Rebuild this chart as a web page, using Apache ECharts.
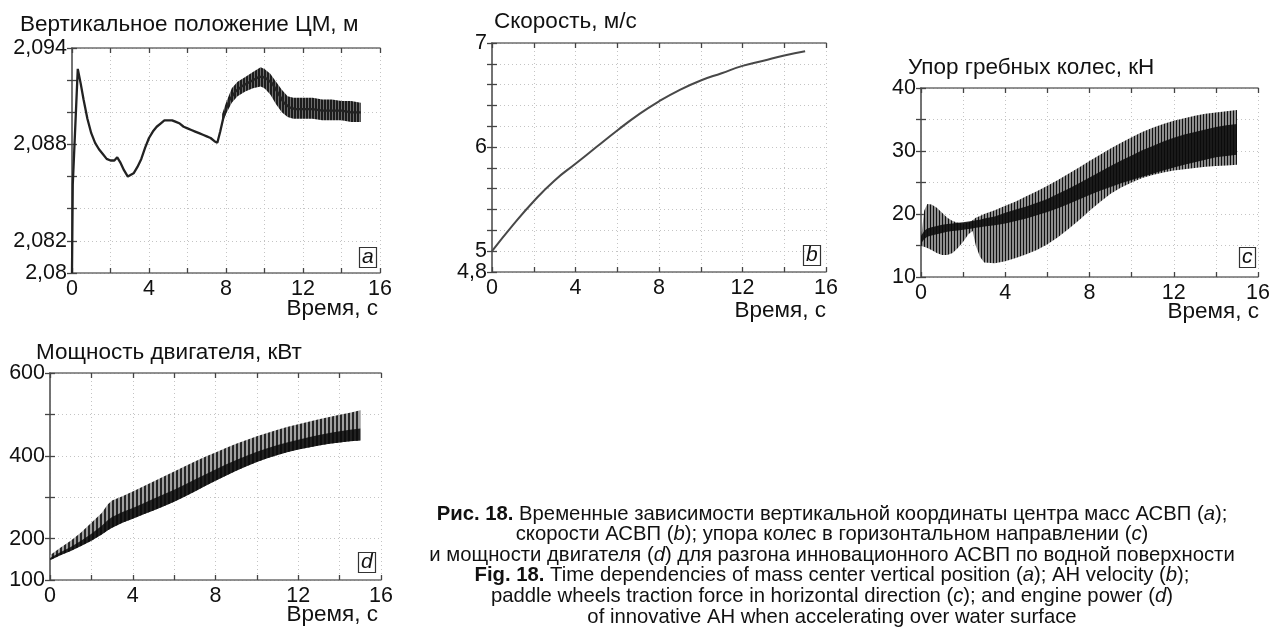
<!DOCTYPE html>
<html><head><meta charset="utf-8">
<script src="https://cdn.jsdelivr.net/npm/echarts@6/dist/echarts.min.js"></script>
<style>html,body{margin:0;padding:0;background:#fff}#c{width:1273px;height:628px}</style>
</head><body><div id="c"></div>
<script>
// ---------- DATA ----------
const xTicks = [0, 4, 8, 12, 16];
// (a) vertical position of mass center, m
const aTime = [0, 0.04, 0.3, 0.45, 0.6, 0.8, 1.0, 1.2, 1.4, 1.6, 1.8, 2.0, 2.2, 2.35, 2.5, 2.7, 2.9, 3.0, 3.2, 3.4, 3.6, 3.8, 4.0, 4.2, 4.4, 4.6, 4.8, 5.0, 5.2, 5.4, 5.6, 5.8, 6.0, 6.2, 6.4, 6.6, 6.8, 7.0, 7.2, 7.4, 7.55, 7.7, 7.85, 8.0, 8.2, 8.5, 8.8, 9.1, 9.4, 9.7, 9.9, 10.1, 10.4, 10.7, 11.0, 11.3, 11.6, 12, 12.5, 13, 13.5, 14, 14.5, 15];
const aPos = [2.0800, 2.0855, 2.0927, 2.0918, 2.0908, 2.0896, 2.0887, 2.0881, 2.0877, 2.0874, 2.0871, 2.0870, 2.0870, 2.0872, 2.0869, 2.0864, 2.0860, 2.0859, 2.0862, 2.0866, 2.0871, 2.0878, 2.0884, 2.0888, 2.0891, 2.0893, 2.0895, 2.0895, 2.0895, 2.0894, 2.0893, 2.0891, 2.0890, 2.0889, 2.0888, 2.0887, 2.0886, 2.0885, 2.0884, 2.0882, 2.0881, 2.0888, 2.0896, 2.0902, 2.0908, 2.0913, 2.0916, 2.0918, 2.0920, 2.0922, 2.0922, 2.0921, 2.0918, 2.0912, 2.0906, 2.0903, 2.0902, 2.0902, 2.0902, 2.0901, 2.0901, 2.0901, 2.0900, 2.0900];
const aBandTime = [7.8, 8.0, 8.3, 8.6, 9.0, 9.4, 9.8, 10.0, 10.3, 10.6, 10.9, 11.2, 11.5, 12, 12.5, 13, 13.5, 14, 14.5, 15];
const aBandHigh = [2.0899, 2.0906, 2.0915, 2.0919, 2.0922, 2.0925, 2.0928, 2.0927, 2.0924, 2.0919, 2.0914, 2.0910, 2.0909, 2.0909, 2.0909, 2.0908, 2.0908, 2.0907, 2.0907, 2.0906];
const aBandLow = [2.0893, 2.0899, 2.0906, 2.0910, 2.0913, 2.0915, 2.0916, 2.0915, 2.0911, 2.0905, 2.0900, 2.0897, 2.0896, 2.0896, 2.0896, 2.0895, 2.0895, 2.0895, 2.0894, 2.0894];
// (b) velocity, m/s
const bTime = [0, 1, 2, 3, 4, 5, 6, 7, 8, 9, 10, 11, 12, 13, 14, 15];
const bSpeed = [5.00, 5.25, 5.48, 5.68, 5.84, 6.00, 6.16, 6.31, 6.44, 6.55, 6.64, 6.71, 6.78, 6.83, 6.88, 6.92];
// (c) paddle wheel thrust, kN
const cTime = [0, 0.15, 0.3, 0.5, 0.75, 1.0, 1.25, 1.5, 1.75, 2.0, 2.25, 2.45, 2.6, 2.8, 3.0, 3.5, 4, 4.5, 5, 5.5, 6, 6.5, 7, 7.5, 8, 8.5, 9, 9.5, 10, 10.5, 11, 11.5, 12, 12.5, 13, 13.5, 14, 14.5, 15];
const cHigh = [16, 20.5, 21.6, 21.5, 21.0, 20.2, 19.4, 18.9, 18.6, 18.5, 18.6, 19.0, 19.4, 19.7, 20.0, 20.6, 21.3, 22.0, 22.8, 23.6, 24.5, 25.4, 26.4, 27.4, 28.4, 29.4, 30.4, 31.3, 32.2, 33.0, 33.7, 34.3, 34.8, 35.2, 35.6, 35.9, 36.1, 36.3, 36.5];
const cLow = [15, 14.8, 14.6, 14.3, 13.8, 13.5, 13.5, 13.8, 14.6, 15.6, 16.8, 17.3, 15.0, 13.2, 12.3, 12.2, 12.5, 13.0, 13.6, 14.3, 15.2, 16.3, 17.6, 19.0, 20.5, 21.9, 23.2, 24.2, 25.0, 25.7, 26.2, 26.6, 26.9, 27.1, 27.3, 27.5, 27.6, 27.7, 27.8];
const cCoreLow = [15.3, 16.0, 16.4, 16.6, 16.8, 17.0, 17.2, 17.3, 17.4, 17.5, 17.6, 17.7, 17.8, 17.9, 18.0, 18.2, 18.5, 18.9, 19.3, 19.8, 20.3, 20.9, 21.6, 22.3, 23.0, 23.7, 24.3, 24.9, 25.4, 25.9, 26.4, 26.9, 27.4, 27.8, 28.2, 28.6, 29.0, 29.2, 29.4];
const cCoreHigh = [16.5, 17.3, 17.7, 17.9, 18.1, 18.3, 18.4, 18.5, 18.6, 18.7, 18.8, 18.9, 19.0, 19.1, 19.3, 19.6, 20.2, 20.7, 21.2, 21.8, 22.4, 23.2, 24.0, 24.9, 25.8, 26.7, 27.6, 28.5, 29.3, 30.1, 30.8, 31.5, 32.1, 32.6, 33.0, 33.4, 33.8, 34.1, 34.3];
// (d) engine power, kW
const dTime = [0, 0.5, 1, 1.5, 2, 2.5, 2.8, 3, 3.5, 4, 4.5, 5, 5.5, 6, 6.5, 7, 7.5, 8, 8.5, 9, 9.5, 10, 10.5, 11, 11.5, 12, 12.5, 13, 13.5, 14, 14.5, 15];
const dHigh = [160, 178, 195, 215, 238, 262, 283, 292, 302, 314, 326, 338, 350, 362, 374, 386, 398, 408, 419, 429, 438, 447, 455, 463, 470, 476, 482, 488, 494, 499, 504, 510];
const dLow = [148, 160, 170, 182, 195, 210, 220, 226, 238, 248, 258, 268, 278, 289, 301, 314, 327, 340, 352, 364, 375, 385, 394, 402, 409, 415, 420, 425, 429, 432, 435, 437];
const dCoreHigh = [153, 167, 180, 195, 212, 231, 245, 252, 264, 274, 285, 296, 307, 318, 330, 343, 355, 367, 379, 390, 400, 410, 418, 426, 433, 439, 445, 450, 455, 459, 463, 466];

// ---------- STYLE HELPERS ----------
const FONT = "'Liberation Sans', Arial, sans-serif";
function stripes(period, darkW, dark, light) {
  const cv = document.createElement('canvas');
  cv.width = period; cv.height = 4;
  const g = cv.getContext('2d');
  g.fillStyle = light; g.fillRect(0, 0, period, 4);
  g.fillStyle = dark; g.fillRect(0, 0, darkW, 4);
  return { image: cv, repeat: 'repeat' };
}
const patA = stripes(3, 2, '#1c1c1c', '#6e6e6e');
const patC = stripes(3, 1, '#111111', '#8e8e8e');
const patD = stripes(4, 2, '#262626', '#a0a0a0');

const grids = [
  { left: 72, top: 48, width: 308, height: 225 },
  { left: 492, top: 43, width: 334, height: 229 },
  { left: 921, top: 88, width: 343, height: 189 },
  { left: 50, top: 373, width: 331, height: 207 }
];
const yCfg = [
  { min: 2.080, max: 2.094, interval: 0.002, fmt: v => ({2094: '2,094', 2088: '2,088', 2082: '2,082', 2080: '2,08'})[Math.round(v * 1000)] || '' },
  { min: 4.8, max: 7, interval: 0.2, fmt: v => ({70: '7', 60: '6', 48: '4,8'})[Math.round(v * 10)] || '' },
  { min: 10, max: 40, interval: 5, fmt: v => (Math.round(v) % 10 === 0 ? String(Math.round(v)) : '') },
  { min: 100, max: 600, interval: 100, fmt: v => ([100, 200, 400, 600].indexOf(Math.round(v)) >= 0 ? String(Math.round(v)) : '') }
];
const boxLine = { show: true, lineStyle: { color: '#6e6e6e', width: 1.6 } };
const tick = { show: true, inside: true, length: 5, lineStyle: { color: '#444', width: 1.3 } };
const split = { show: true, lineStyle: { color: '#c4c4c4', width: 1, type: [1, 3] } };
const lbl = { color: '#111', fontSize: 21.5, fontFamily: FONT, showMinLabel: true, showMaxLabel: true, hideOverlap: false };

const xAxis = [], yAxis = [];
grids.forEach((g, k) => {
  xAxis.push({ type: 'value', gridIndex: k, min: 0, max: 16, interval: 2, position: 'bottom',
    axisLine: boxLine, axisTick: tick, splitLine: split,
    axisLabel: Object.assign({}, lbl, { margin: 5, formatter: v => (xTicks.indexOf(v) >= 0 ? String(v) : '') }) });
  xAxis.push({ type: 'value', gridIndex: k, min: 0, max: 16, interval: 2, position: 'top',
    axisLine: boxLine, axisTick: tick, splitLine: { show: false }, axisLabel: { show: false } });
  const c = yCfg[k];
  yAxis.push({ type: 'value', gridIndex: k, min: c.min, max: c.max, interval: c.interval, position: 'left',
    axisLine: boxLine, axisTick: tick, splitLine: split,
    axisLabel: Object.assign({}, lbl, { margin: 5, formatter: c.fmt }) });
  yAxis.push({ type: 'value', gridIndex: k, min: c.min, max: c.max, interval: c.interval, position: 'right',
    axisLine: boxLine, axisTick: tick, splitLine: { show: false }, axisLabel: { show: false } });
});
// extra label-only axis for the "5" tick of panel b (it sits close to "4,8")
yAxis.push({ type: 'value', gridIndex: 1, min: 4.8, max: 7, interval: 0.2, position: 'left', offset: 0,
  axisLine: { show: false }, axisTick: { show: false }, splitLine: { show: false },
  axisLabel: Object.assign({}, lbl, { margin: 5, showMinLabel: false,
    formatter: v => (Math.round(v * 10) === 50 ? '5' : '') }) });

function zip(t, v) { return t.map((x, i) => [x, v[i]]); }
function band(k, times, lows, highs, fill) {
  return {
    type: 'custom', xAxisIndex: 2 * k, yAxisIndex: 2 * k, silent: true, clip: true, z: 3,
    data: [[times[0], lows[0]]],
    renderItem: function (params, api) {
      const pts = [];
      for (let i = 0; i < times.length; i++) pts.push(api.coord([times[i], highs[i]]));
      for (let i = times.length - 1; i >= 0; i--) pts.push(api.coord([times[i], lows[i]]));
      return { type: 'polygon', shape: { points: pts }, style: { fill: fill, stroke: null } };
    }
  };
}

const series = [
  { type: 'line', xAxisIndex: 0, yAxisIndex: 0, data: zip(aTime, aPos), showSymbol: false, z: 4,
    lineStyle: { color: '#222', width: 2.3 } },
  band(0, aBandTime, aBandLow, aBandHigh, patA),
  { type: 'line', xAxisIndex: 2, yAxisIndex: 2, data: zip(bTime, bSpeed), showSymbol: false, smooth: true,
    lineStyle: { color: '#484848', width: 2 } },
  band(2, cTime, cLow, cHigh, patC),
  band(2, cTime, cCoreLow, cCoreHigh, 'rgba(10,10,10,0.88)'),
  band(3, dTime, dLow, dHigh, patD),
  band(3, dTime, dLow, dCoreHigh, 'rgba(10,10,10,0.85)')
];

const tStyle = { fontSize: 22.5, fontWeight: 'normal', color: '#111', fontFamily: FONT };
function T(text, pos, extra) {
  return Object.assign({ text: text, padding: 0, textStyle: Object.assign({}, tStyle, extra || {}) }, pos);
}
function B(text, left, top) {
  return { text: text, left: left, top: top, padding: [0, 3], borderWidth: 1.2, borderColor: '#333',
    textStyle: Object.assign({}, tStyle, { fontSize: 21, fontStyle: 'italic', lineHeight: 19 }) };
}
const titles = [
  T('Вертикальное положение ЦМ, м', { left: 20, top: 13 }),
  T('Скорость, м/с', { left: 494, top: 10 }),
  T('Упор гребных колес, кН', { left: 908, top: 56 }),
  T('Мощность двигателя, кВт', { left: 36, top: 341 }),
  T('Время, с', { right: 895, top: 297 }),
  T('Время, с', { right: 447, top: 299 }),
  T('Время, с', { right: 14, top: 300 }),
  T('Время, с', { right: 895, top: 603 }),
  B('a', 359, 248), B('b', 803, 246), B('c', 1239, 248), B('d', 358, 553)
];

const capLines = [
  '{b|Рис. 18.} Временные зависимости вертикальной координаты центра масс АСВП ({i|a});',
  'скорости АСВП ({i|b}); упора колес в горизонтальном направлении ({i|c})',
  'и мощности двигателя ({i|d}) для разгона инновационного АСВП по водной поверхности',
  '{b|Fig. 18.} Time dependencies of mass center vertical position ({i|a}); AH velocity ({i|b});',
  'paddle wheels traction force in horizontal direction ({i|c}); and engine power ({i|d})',
  'of innovative AH when accelerating over water surface'
];
const capFont = 20.3;
const graphic = capLines.map((s, i) => ({
  type: 'text', x: 832, y: 514 + i * 20.6, silent: true,
  style: { text: s, align: 'center', verticalAlign: 'middle', fill: '#111', fontSize: capFont, fontFamily: FONT,
    rich: { b: { fontWeight: 'bold', fontSize: capFont, fontFamily: FONT, fill: '#111' },
            i: { fontStyle: 'italic', fontSize: capFont, fontFamily: FONT, fill: '#111' } } }
}));

const chart = echarts.init(document.getElementById('c'), null, { renderer: 'canvas' });
chart.setOption({ animation: false, backgroundColor: '#fff', grid: grids, xAxis: xAxis, yAxis: yAxis,
  series: series, title: titles, graphic: graphic });
</script></body></html>
